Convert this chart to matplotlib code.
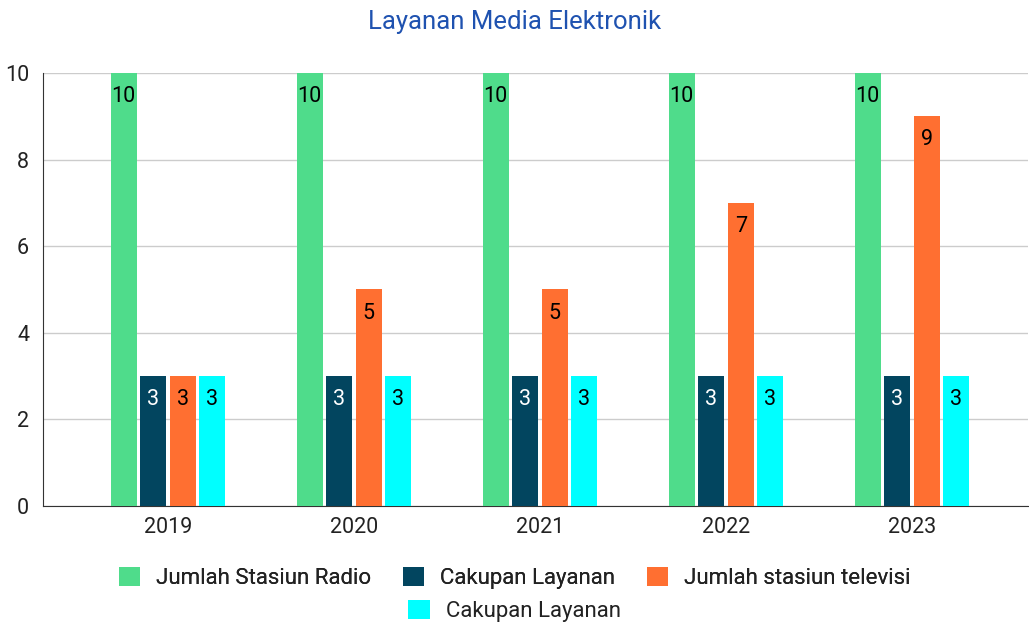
import matplotlib.pyplot as plt
import numpy as np
from matplotlib.patches import Patch

plt.rcParams['font.family'] = ['Roboto', 'DejaVu Sans']

years = ["2019", "2020", "2021", "2022", "2023"]
radio = [10, 10, 10, 10, 10]
cakupan_radio = [3, 3, 3, 3, 3]
televisi = [3, 5, 5, 7, 9]
cakupan_tv = [3, 3, 3, 3, 3]

series = [
    ("Jumlah Stasiun Radio", radio, "#4fdc8b", "black"),
    ("Cakupan Layanan", cakupan_radio, "#02455f", "white"),
    ("Jumlah stasiun televisi", televisi, "#ff6f31", "black"),
    ("Cakupan Layanan", cakupan_tv, "#00ffff", "black"),
]

fig = plt.figure(figsize=(10.29, 6.26), dpi=100)
ax = fig.add_axes([43 / 1029, 1 - 506 / 626, 985 / 1029, 433 / 626])

x = np.arange(len(years))
step = 0.159
width = 0.14
for i, (name, vals, color, tcolor) in enumerate(series):
    pos = x + (i - 1.5) * step
    bars = ax.bar(pos, vals, width, color=color, zorder=3)
    for b, v in zip(bars, vals):
        ax.annotate(str(v), (b.get_x() + b.get_width() / 2, v),
                    xytext=(0, -17), textcoords="offset points",
                    ha="center", va="center", fontsize=15.5, color=tcolor, zorder=4)

ax.set_xlim(-0.672, 4.624)
ax.set_ylim(0, 10)
ax.set_yticks([0, 2, 4, 6, 8, 10])
ax.set_xticks(x)
ax.set_xticklabels(years)
ax.tick_params(axis="both", length=0, labelsize=15.5, colors="#222222")
ax.tick_params(axis="y", pad=10)
ax.tick_params(axis="x", pad=8)
ax.grid(axis="y", color="#cccccc", linewidth=1, zorder=0)
for s in ["top", "right"]:
    ax.spines[s].set_visible(False)
ax.spines["left"].set_color("#333333")
ax.spines["bottom"].set_color("#333333")

fig.text(0.5, 1 - 22 / 626, "Layanan Media Elektronik", ha="center", va="center",
         fontsize=18.5, color="#1f52b0")

handles = [Patch(facecolor=c, edgecolor="none") for _, _, c, _ in series]
labels = [s[0] for s in series]
legkw = dict(frameon=False, fontsize=16, handlelength=0.95, handleheight=0.95,
             handletextpad=0.72, borderpad=0)
leg1 = fig.legend(handles[:3], labels[:3], ncol=3, loc="center",
                  bbox_to_anchor=(0.5, 1 - 578 / 626), columnspacing=1.44, **legkw)
for t in leg1.get_texts():
    t.set_color("#222222")
fig.add_artist(leg1)
leg2 = fig.legend(handles[3:], labels[3:], loc="center",
                  bbox_to_anchor=(0.5, 1 - 611 / 626), **legkw)
for t in leg2.get_texts():
    t.set_color("#222222")

fig.savefig("out.png", dpi=100)
